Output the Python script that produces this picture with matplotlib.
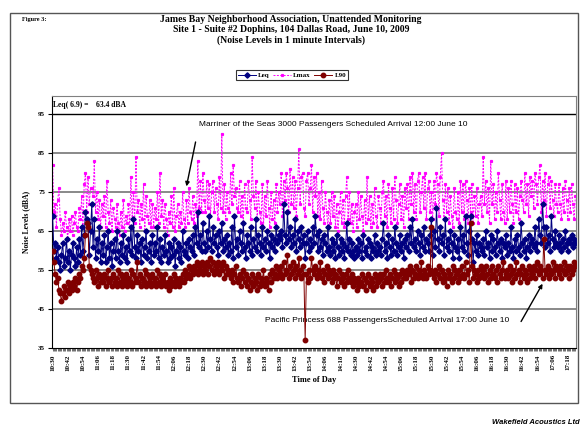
import numpy as np
import matplotlib
matplotlib.use('Agg')
import matplotlib.pyplot as plt
from matplotlib.patches import Rectangle

# 1-minute noise levels (dBA), 10:30 .. 17:24
leq = [
    69, 60, 62, 58, 61, 57, 55, 59, 62, 56, 58, 63, 57, 60, 55, 59, 62, 58, 56, 61,
    57, 63, 59, 66, 60, 64, 70, 68, 67, 59, 65, 72, 61, 68, 58, 63, 60, 66, 57, 62,
    59, 64, 57, 61, 65, 58, 62, 56, 60, 63, 58, 65, 60, 57, 62, 59, 64, 58, 61, 57,
    63, 60, 66, 59, 68, 61, 58, 64, 60, 62, 57, 63, 59, 61, 65, 58, 60, 62, 57, 64,
    59, 62, 60, 66, 58, 63, 57, 61, 59, 64, 60, 57, 62, 58, 61, 59, 63, 56, 60, 62,
    58, 61, 57, 65, 60, 59, 62, 58, 63, 61, 60, 64, 59, 66, 62, 70, 61, 64, 60, 67,
    62, 60, 65, 61, 69, 63, 60, 66, 62, 64, 61, 59, 65, 62, 67, 60, 63, 61, 64, 59,
    62, 60, 66, 58, 69, 61, 63, 59, 65, 62, 60, 67, 61, 58, 64, 62, 60, 66, 59, 63,
    61, 68, 60, 64, 62, 59, 66, 61, 63, 60, 65, 62, 58, 64, 61, 63, 60, 66, 62, 64,
    63, 65, 61, 72, 64, 62, 70, 63, 66, 61, 64, 62, 68, 60, 65, 63, 61, 66, 62, 64,
    58, 62, 65, 60, 63, 61, 66, 62, 69, 64, 60, 65, 61, 63, 59, 64, 62, 60, 66, 61,
    59, 63, 60, 62, 58, 64, 61, 59, 63, 60, 62, 58, 61, 67, 60, 63, 59, 62, 60, 58,
    61, 59, 63, 60, 62, 58, 64, 60, 61, 59, 63, 62, 58, 61, 60, 64, 59, 62, 60, 61,
    59, 63, 67, 60, 62, 58, 64, 61, 59, 63, 60, 66, 62, 59, 61, 64, 60, 62, 58, 63,
    61, 64, 60, 66, 62, 68, 61, 63, 60, 65, 62, 59, 64, 61, 66, 60, 63, 62, 60, 64,
    68, 59, 65, 61, 71, 63, 60, 66, 62, 64, 59, 68, 61, 63, 60, 65, 62, 58, 64, 61,
    60, 63, 58, 66, 61, 64, 60, 69, 62, 59, 65, 69, 63, 57, 62, 60, 64, 59, 62, 61,
    60, 63, 59, 65, 61, 62, 58, 64, 60, 63, 61, 59, 65, 62, 60, 63, 58, 62, 61, 64,
    59, 62, 60, 66, 61, 58, 63, 60, 64, 61, 59, 67, 62, 60, 63, 58, 61, 64, 60, 62,
    63, 61, 66, 62, 60, 68, 64, 62, 72, 66, 61, 66, 62, 64, 60, 69, 63, 61, 65, 62,
    61, 64, 62, 60, 63, 61, 65, 62, 60, 63, 62, 64, 61, 63, 62,
]
lmax = [
    82, 70, 72, 66, 73, 76, 68, 64, 67, 65, 70, 66, 63, 68, 65, 69, 64, 67, 70, 66,
    65, 71, 68, 74, 66, 77, 80, 70, 79, 72, 76, 76, 74, 83, 70, 75, 68, 73, 66, 72,
    69, 74, 66, 78, 70, 67, 73, 65, 71, 68, 66, 72, 67, 64, 70, 66, 73, 65, 69, 67,
    72, 66, 79, 68, 75, 67, 84, 70, 73, 66, 72, 68, 77, 65, 74, 69, 67, 73, 66, 72,
    66, 71, 68, 75, 67, 80, 69, 73, 66, 72, 68, 64, 70, 67, 74, 66, 76, 65, 69, 72,
    66, 70, 67, 75, 68, 66, 73, 67, 76, 70, 68, 74, 67, 72, 69, 83, 71, 78, 70, 80,
    73, 70, 78, 71, 77, 69, 75, 78, 70, 76, 72, 68, 79, 71, 90, 70, 77, 68, 75, 71,
    70, 80, 72, 82, 74, 76, 71, 70, 78, 69, 74, 67, 77, 71, 70, 78, 73, 68, 84, 74,
    71, 78, 68, 75, 70, 67, 77, 66, 74, 69, 78, 71, 66, 75, 68, 73, 67, 77, 70, 75,
    72, 80, 69, 78, 73, 80, 76, 70, 81, 72, 79, 71, 78, 69, 76, 86, 72, 79, 80, 71,
    69, 78, 80, 72, 76, 82, 70, 79, 74, 80, 69, 75, 68, 78, 71, 67, 75, 70, 66, 73,
    67, 75, 69, 74, 66, 72, 65, 70, 75, 67, 73, 66, 74, 79, 68, 75, 67, 72, 65, 70,
    72, 66, 75, 68, 74, 69, 65, 73, 67, 79, 68, 74, 66, 72, 67, 76, 69, 66, 74, 71,
    67, 75, 78, 69, 74, 66, 77, 71, 67, 76, 68, 79, 73, 67, 72, 77, 68, 74, 66, 76,
    71, 77, 68, 79, 72, 80, 70, 77, 68, 78, 80, 70, 75, 79, 71, 80, 68, 76, 78, 70,
    75, 68, 78, 72, 80, 77, 69, 79, 85, 73, 68, 77, 70, 76, 67, 74, 69, 66, 76, 70,
    68, 75, 67, 78, 70, 77, 68, 78, 73, 67, 76, 70, 77, 67, 74, 69, 76, 67, 72, 74,
    69, 84, 72, 78, 70, 76, 67, 83, 72, 77, 68, 75, 70, 80, 73, 68, 77, 70, 67, 78,
    68, 76, 70, 78, 72, 67, 77, 70, 76, 68, 74, 78, 73, 70, 80, 72, 77, 69, 79, 74,
    78, 71, 80, 77, 72, 79, 82, 70, 78, 73, 80, 69, 77, 79, 71, 78, 73, 69, 77, 72,
    70, 77, 72, 68, 76, 70, 78, 73, 68, 76, 70, 77, 72, 68, 74,
]
l90 = [
    60, 57, 54, 52, 53, 50, 49, 47, 49, 51, 48, 50, 52, 49, 51, 50, 52, 51, 53, 50,
    52, 54, 53, 56, 55, 58, 64, 67, 66, 56, 55, 54, 53, 52, 55, 53, 51, 54, 52, 53,
    52, 54, 51, 53, 55, 52, 53, 51, 54, 52, 53, 51, 55, 52, 54, 51, 53, 52, 54, 51,
    53, 52, 55, 51, 54, 52, 53, 57, 52, 54, 51, 53, 52, 55, 51, 54, 52, 53, 51, 54,
    52, 53, 51, 55, 52, 54, 51, 53, 52, 54, 51, 52, 50, 53, 51, 52, 54, 51, 53, 52,
    51, 53, 52, 54, 52, 55, 53, 54, 56, 53, 55, 54, 56, 55, 57, 54, 56, 55, 57, 54,
    56, 55, 57, 54, 56, 58, 55, 57, 54, 56, 55, 57, 54, 56, 55, 57, 53, 56, 54, 55,
    54, 53, 55, 52, 54, 56, 53, 52, 54, 51, 53, 55, 52, 54, 51, 53, 50, 52, 54, 51,
    53, 52, 50, 54, 51, 53, 52, 55, 51, 53, 52, 50, 54, 52, 55, 53, 54, 56, 53, 55,
    54, 56, 53, 57, 54, 55, 59, 53, 56, 54, 57, 55, 53, 56, 54, 58, 55, 53, 56, 54,
    37, 54, 52, 55, 53, 58, 55, 54, 56, 53, 55, 54, 57, 53, 55, 52, 54, 56, 53, 55,
    54, 52, 55, 53, 54, 51, 53, 55, 52, 54, 53, 51, 54, 52, 55, 53, 52, 54, 51, 53,
    52, 50, 53, 51, 52, 54, 51, 53, 50, 52, 54, 51, 53, 52, 50, 54, 51, 53, 52, 54,
    53, 51, 54, 52, 55, 53, 52, 54, 51, 53, 55, 52, 54, 53, 51, 54, 52, 55, 53, 54,
    53, 55, 54, 56, 52, 55, 53, 54, 56, 53, 55, 54, 57, 53, 55, 54, 53, 56, 54, 55,
    66, 54, 53, 55, 52, 54, 56, 53, 55, 52, 54, 53, 51, 55, 53, 54, 52, 56, 53, 55,
    54, 52, 55, 53, 56, 54, 53, 57, 54, 55, 52, 67, 56, 53, 55, 54, 52, 55, 53, 56,
    54, 55, 53, 56, 54, 52, 55, 53, 56, 54, 53, 55, 52, 56, 54, 53, 55, 57, 53, 54,
    55, 53, 56, 54, 52, 55, 53, 57, 54, 55, 52, 54, 56, 53, 55, 54, 52, 56, 53, 55,
    54, 56, 53, 55, 57, 54, 56, 55, 53, 63, 55, 54, 56, 53, 55, 54, 57, 55, 53, 56,
    55, 54, 56, 53, 55, 57, 54, 56, 55, 53, 56, 54, 55, 57, 56,
]
time_labels = ["10:30", "10:42", "10:54", "11:06", "11:18", "11:30", "11:42", "11:54",
               "12:06", "12:18", "12:30", "12:42", "12:54", "13:06", "13:18", "13:30",
               "13:42", "13:54", "14:06", "14:18", "14:30", "14:42", "14:54", "15:06",
               "15:18", "15:30", "15:42", "15:54", "16:06", "16:18", "16:30", "16:42",
               "16:54", "17:06", "17:18"]
label_step = 12  # minutes between labels
y_ticks = [35, 45, 55, 65, 75, 85, 95]

serif = "Liberation Serif"
sans = "Liberation Sans"

W, H = 584, 433
fig = plt.figure(figsize=(W / 100, H / 100), dpi=100)

def fx(px):
    return px / W

def fy(py):
    return 1 - py / H

# outer frame
fig.patches.append(Rectangle((fx(10), fy(403)), fx(568), (403 - 13) / H,
                             transform=fig.transFigure, fill=False,
                             edgecolor="#555555", lw=1.0))

ax = fig.add_axes([fx(52), fy(348), fx(576 - 52), (348 - 96) / H])
x = np.arange(len(leq))

ax.plot(x, lmax, color="#FF00FF", ls=(0, (2, 1.5)), lw=0.7, marker="s",
        ms=1.3, label="Lmax", zorder=2)
ax.plot(x, leq, color="#000080", lw=0.7, marker="D", ms=2.7, label="Leq",
        zorder=3)
ax.plot(x, l90, color="#800000", lw=0.7, marker="o", ms=3.2, label="L90",
        zorder=4)

ax.set_xlim(-0.5, len(leq) - 0.5)
ax.set_ylim(35, 99.7)
for yv in y_ticks[1:-1]:
    ax.axhline(yv, color="#808080", lw=1.3, zorder=1)
ax.axhline(95, color="black", lw=1.0, zorder=1)

ax.set_yticks(y_ticks)
ax.set_yticklabels([str(v) for v in y_ticks], fontfamily=serif,
                   fontweight="bold", fontsize=5)
ax.set_xticks(np.arange(len(time_labels)) * label_step)
ax.set_xticklabels(time_labels, rotation=90, fontfamily=serif,
                   fontweight="bold", fontsize=5)
ax.set_xticks(x, minor=True)
ax.tick_params(axis="x", which="both", length=2.5, width=0.4, direction="out",
               pad=2)
ax.tick_params(axis="y", length=3, width=0.8, pad=2)
for s in ["top", "right"]:
    ax.spines[s].set_color("#808080")
ax.spines["left"].set_linewidth(0.8)
ax.spines["bottom"].set_linewidth(0.8)

ax.set_xlabel("Time of Day", fontfamily=serif, fontweight="bold", fontsize=6,
              labelpad=4)
ax.set_ylabel("Noise Levels (dBA)", fontfamily=serif, fontweight="bold",
              fontsize=5.5, labelpad=6)

ax.text(0.01, 97.3, "Leq( 6.9) =    63.4 dBA", fontfamily=serif,
        fontweight="bold", fontsize=5.5, va="center", ha="left")

ax.annotate("Marriner of the Seas 3000 Passengers Scheduled Arrival 12:00 June 10",
            xy=(106, 76.5), xytext=(116, 92.3), fontfamily=sans, fontsize=6,
            va="center", ha="left",
            arrowprops=dict(arrowstyle="-|>", color="black", lw=1.0,
                            mutation_scale=6, shrinkA=8, shrinkB=0,
                            relpos=(0, 0.5)))
ax.annotate("", xy=(388, 51.5), xytext=(371, 41.8),
            arrowprops=dict(arrowstyle="-|>", color="black", lw=1.0,
                            mutation_scale=6, shrinkA=0, shrinkB=0))
ax.text(168, 42.0, "Pacific Princess 688 PassengersScheduled Arrival 17:00 June 10",
        fontfamily=sans, fontsize=6, va="center", ha="left")

# header
fig.text(fx(22), fy(19), "Figure 3:", fontfamily=serif, fontweight="bold",
         fontsize=4.5, va="center")
titles = ["James Bay Neighborhood Association, Unattended Monitoring",
          "Site 1 - Suite #2 Dophins, 104 Dallas Road, June 10, 2009",
          "(Noise Levels in 1 minute Intervals)"]
for i, t in enumerate(titles):
    fig.text(fx(291), fy(19 + i * 10.5), t, fontfamily=serif, fontweight="bold",
             fontsize=7, ha="center", va="center")

handles, labels = ax.get_legend_handles_labels()
order = [1, 0, 2]
leg = fig.legend([handles[i] for i in order], [labels[i] for i in order],
                 loc="center", bbox_to_anchor=(fx(292), fy(75)), ncol=3,
                 prop={"family": serif, "weight": "bold", "size": 5},
                 frameon=True, fancybox=False, edgecolor="black",
                 handlelength=2.6, handletextpad=0.3, columnspacing=0.5,
                 borderpad=0.25)
leg.get_frame().set_linewidth(0.8)

fig.text(fx(580), fy(422), "Wakefield Acoustics Ltd", fontfamily=sans,
         fontweight="bold", fontstyle="italic", fontsize=5.5, ha="right",
         va="center")

plt.savefig("out.png", dpi=100)
plt.close()
